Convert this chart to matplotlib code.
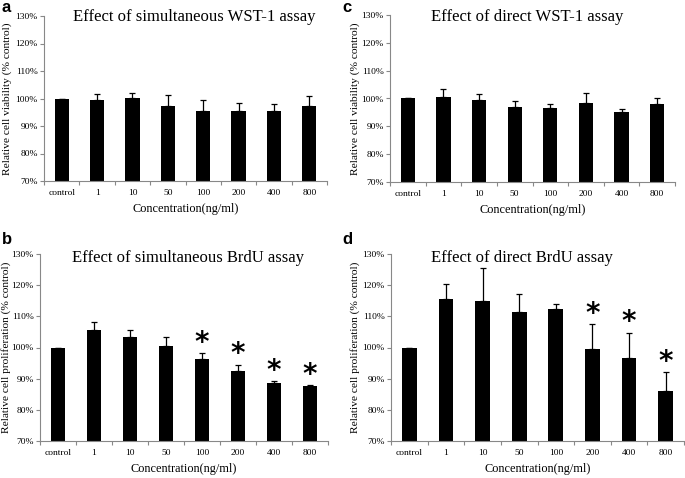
import matplotlib
matplotlib.use("Agg")
import matplotlib.pyplot as plt
from matplotlib.ticker import FixedLocator, FuncFormatter

# data
categories = ["control", "1", "10", "50", "100", "200", "400", "800"]

wst_simult = [100.0, 99.5, 100.2, 97.4, 95.6, 95.4, 95.6, 97.2]
wst_simult_err = [0.0, 2.1, 1.9, 3.7, 3.8, 3.1, 2.3, 3.7]

brdu_simult = [100.0, 105.7, 103.4, 100.6, 96.4, 92.5, 88.5, 87.7]
brdu_simult_err = [0.0, 2.4, 2.1, 2.8, 1.8, 2.0, 0.7, 0.2]
brdu_simult_star = [False, False, False, False, True, True, True, True]

wst_direct = [100.0, 100.7, 99.4, 96.9, 96.7, 98.3, 95.0, 97.9]
wst_direct_err = [0.0, 2.6, 2.2, 2.1, 1.5, 3.7, 1.2, 2.3]

brdu_direct = [100.0, 115.6, 115.0, 111.5, 112.5, 99.5, 96.7, 85.9]
brdu_direct_err = [0.0, 4.7, 10.5, 5.8, 1.6, 7.9, 8.1, 6.1]
brdu_direct_star = [False, False, False, False, False, True, True, True]

W, H = 685, 478
SERIF = ["Liberation Serif", "DejaVu Serif"]


def rect(left, top, right, bottom):
    return [left / W, 1 - bottom / H, (right - left) / W, (bottom - top) / H]


def draw_panel(ax, values, errors, stars, ylabel, label_x):
    x = list(range(len(categories)))
    ax.bar(x, values, width=0.4, color="black", zorder=2)
    ax.errorbar(x, values, yerr=[[0] * len(errors), errors], fmt="none",
                ecolor="black", elinewidth=0.9, capsize=2.5, capthick=0.9, zorder=3)
    if stars:
        for i, s in enumerate(stars):
            if s:
                ax.text(i, values[i] + errors[i] + 3.4, "*", ha="center", va="center",
                        fontsize=20, fontweight="bold", family="DejaVu Sans")
    ax.set_ylim(70, 130)
    ax.set_xlim(-0.5, 7.5)
    ax.set_yticks(range(70, 131, 10))
    ax.yaxis.set_major_formatter(FuncFormatter(lambda v, p: f"{int(v)}%"))
    ax.set_xticks(x)
    ax.set_xticklabels(categories)
    ax.xaxis.set_minor_locator(FixedLocator([i - 0.5 for i in range(len(categories) + 1)]))
    ax.tick_params(axis="x", which="major", length=0, pad=6)
    ax.tick_params(axis="x", which="minor", length=3, color="#888888", width=0.8)
    ax.tick_params(axis="y", length=3, color="#888888", width=0.8, pad=1.5)
    for t in ax.get_xticklabels() + ax.get_yticklabels():
        t.set_fontfamily(SERIF)
        t.set_fontsize(6.8)
    for side in ["top", "right"]:
        ax.spines[side].set_visible(False)
    for side in ["left", "bottom"]:
        ax.spines[side].set_color("#888888")
        ax.spines[side].set_linewidth(0.8)
    ax.set_ylabel(ylabel, fontsize=8.2, family=SERIF, va="center")
    ax.yaxis.set_label_coords(label_x, 0.5)
    ax.set_xlabel("Concentration(ng/ml)", fontsize=8.8, family=SERIF, labelpad=4)


fig = plt.figure(figsize=(W / 100, H / 100), dpi=100)

ax_a = fig.add_axes(rect(44, 16, 327, 181))
ax_b = fig.add_axes(rect(40, 254, 328, 441))
ax_c = fig.add_axes(rect(390, 15, 675, 182))
ax_d = fig.add_axes(rect(391, 254, 684, 441))

draw_panel(ax_a, wst_simult, wst_simult_err, None,
           "Relative cell viability (% control)", (7 - 44) / 283)
draw_panel(ax_b, brdu_simult, brdu_simult_err, brdu_simult_star,
           "Relative cell proliferation (% control)", (6 - 40) / 288)
draw_panel(ax_c, wst_direct, wst_direct_err, None,
           "Relative cell viability (% control)", (355 - 390) / 285)
draw_panel(ax_d, brdu_direct, brdu_direct_err, brdu_direct_star,
           "Relative cell proliferation (% control)", (355 - 391) / 293)

titles = [
    ("Effect of simultaneous WST-1 assay", 194, 17),
    ("Effect of simultaneous BrdU assay", 188, 258),
    ("Effect of direct WST-1 assay", 527, 17),
    ("Effect of direct BrdU assay", 522, 258),
]
for txt, px, py in titles:
    fig.text(px / W, 1 - py / H, txt, ha="center", va="center",
             fontsize=12, family=SERIF)

for letter, px, py in [("a", 2, 12), ("b", 2, 244), ("c", 342, 12), ("d", 342, 244)]:
    fig.text(px / W, 1 - py / H, letter, ha="left", va="baseline",
             fontsize=12, fontweight="bold", family=["Liberation Sans", "DejaVu Sans"])

fig.savefig("out.png", dpi=100, facecolor="white")
